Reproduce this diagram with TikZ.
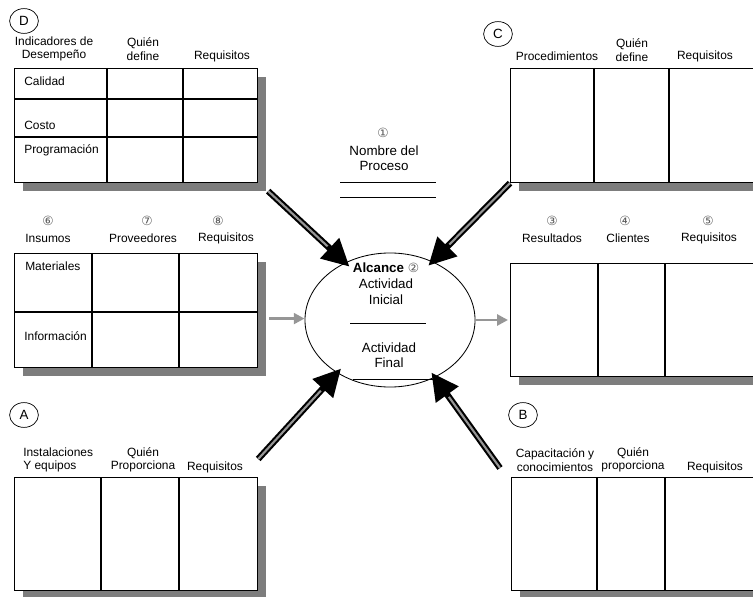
\documentclass[tikz,border=0pt]{standalone}
\usepackage{fontspec}
\setmainfont{Liberation Sans}
\newfontfamily\numfont{DejaVu Sans}
\usepackage{tikz}
\usetikzlibrary{positioning,calc,shapes.geometric,shadows,arrows.meta}
\definecolor{GrisSombra}{RGB}{125,125,125}
\definecolor{GrisFlecha}{RGB}{150,150,150}
\newcommand{\circnum}[1]{{\numfont\fontsize{9}{10}\selectfont\textcolor{black!65}{#1}}}
\tikzset{
    tabla/.style={draw, line width=0.8pt, fill=white, anchor=north west, inner sep=0pt,
        drop shadow={shadow xshift=0.22cm, shadow yshift=-0.2cm, fill=GrisSombra, opacity=1}},
    rejilla/.style={line width=0.8pt},
    etiqueta/.style={font=\fontsize{8.5}{9.5}\selectfont, inner sep=0pt, align=center},
    letra/.style={ellipse, draw, line width=0.5pt, minimum width=0.72cm, minimum height=0.62cm,
        inner sep=0pt, font=\fontsize{9.5}{10}\selectfont},
    numero/.style={inner sep=0pt},
    flechagruesa/.style={draw=black, line width=4.5pt, shorten >=-0.15cm,
        -{Triangle[length=0.68cm, width=0.66cm]},
        postaction={draw=GrisFlecha, line width=1.5pt, -, shorten >=0.6cm}},
    flechagris/.style={draw=GrisFlecha, line width=2pt, -{Triangle[length=0.27cm, width=0.27cm]}}
}
\begin{document}
\begin{tikzpicture}[x=0.025cm, y=-0.025cm,
        % texto del centro un poco mayor
        centro/.style={font=\fontsize{9.5}{11}\selectfont, inner sep=0pt, align=center}
    ]
        \clip (0,0) rectangle (753,596);

        % --- D: INDICADORES DE DESEMPEÑO ---
        \node[letra] (letD) at (24,21) {D};
        \node[etiqueta] (hD1) at (54,49) {Indicadores de\\Desempeño};
        \node[etiqueta] (hD2) at (143,49) {Quién\\define};
        \node[etiqueta] (hD3) at (222,56) {Requisitos};
        \node[tabla, minimum width=6.075cm, minimum height=2.85cm] (tD) at (14,68) {};
        \draw[rejilla] (107,68) -- (107,182);
        \draw[rejilla] (183,68) -- (183,182);
        \draw[rejilla] (14,99) -- (257,99);
        \draw[rejilla] (14,137) -- (257,137);
        \node[etiqueta, anchor=west] (fD1) at (24,81) {Calidad};
        \node[etiqueta, anchor=west] (fD2) at (24,125) {Costo};
        \node[etiqueta, anchor=west] (fD3) at (24,150) {Programación};

        % --- C: PROCEDIMIENTOS ---
        \node[letra] (letC) at (498,34) {C};
        \node[etiqueta] (hC1) at (557,56) {Procedimientos};
        \node[etiqueta] (hC2) at (632,50) {Quién\\define};
        \node[etiqueta] (hC3) at (705,56) {Requisitos};
        \node[tabla, minimum width=6.25cm, minimum height=2.85cm] (tC) at (510,68) {};
        \draw[rejilla] (594,68) -- (594,182);
        \draw[rejilla] (669,68) -- (669,182);

        % --- ENTRADAS: INSUMOS ---
        \node[numero] (nI1) at (48,221) {\circnum{⑥}};
        \node[numero] (nI2) at (147,221) {\circnum{⑦}};
        \node[numero] (nI3) at (218,221) {\circnum{⑧}};
        \node[etiqueta] (hI1) at (48,238) {Insumos};
        \node[etiqueta] (hI2) at (143,238) {Proveedores};
        \node[etiqueta] (hI3) at (226,238) {Requisitos};
        \node[tabla, minimum width=6.075cm, minimum height=2.85cm] (tI) at (14,253) {};
        \draw[rejilla] (92,253) -- (92,367);
        \draw[rejilla] (179,253) -- (179,367);
        \draw[rejilla] (14,312) -- (257,312);
        \node[etiqueta, anchor=west] (fI1) at (25,266) {Materiales};
        \node[etiqueta, anchor=west] (fI2) at (24,336) {Información};

        % --- NOMBRE DEL PROCESO ---
        \node[numero] (nP) at (383,133) {\circnum{①}};
        \node[centro, font=\fontsize{9.5}{10.5}\selectfont] (hP) at (384,158) {Nombre del\\Proceso};
        \draw[line width=0.6pt] (340,182) -- (436,182);
        \draw[line width=0.6pt] (340,197) -- (436,197);

        % --- ALCANCE (ELIPSE) ---
        \node[ellipse, draw, line width=0.6pt, minimum width=4.25cm, minimum height=3.35cm,
            inner sep=0pt] (alcance) at (390,320) {};
        \node[centro, font=\fontsize{9.5}{11.4}\selectfont] (tIni) at (386,284)
            {\textbf{Alcance} \circnum{②}\\Actividad\\Inicial};
        \draw[line width=0.6pt] (350,323) -- (426,323);
        \node[centro] (tFin) at (389,355) {Actividad\\Final};
        \draw[line width=0.6pt] (353,379) -- (433,379);

        % --- SALIDAS: RESULTADOS ---
        \node[numero] (nR1) at (552,221) {\circnum{③}};
        \node[numero] (nR2) at (625,221) {\circnum{④}};
        \node[numero] (nR3) at (708,221) {\circnum{⑤}};
        \node[etiqueta] (hR1) at (552,238) {Resultados};
        \node[etiqueta] (hR2) at (628,238) {Clientes};
        \node[etiqueta] (hR3) at (709,238) {Requisitos};
        \node[tabla, minimum width=6.25cm, minimum height=2.825cm] (tR) at (510,263) {};
        \draw[rejilla] (598,263) -- (598,376);
        \draw[rejilla] (665,263) -- (665,376);

        % --- A: INSTALACIONES ---
        \node[letra] (letA) at (24,415) {A};
        \node[etiqueta, align=left, anchor=west] (hA1) at (23,460) {Instalaciones\\Y equipos};
        \node[etiqueta] (hA2) at (143,460) {Quién\\Proporciona};
        \node[etiqueta] (hA3) at (215,467) {Requisitos};
        \node[tabla, minimum width=6.075cm, minimum height=2.825cm] (tA) at (14,477) {};
        \draw[rejilla] (101,477) -- (101,590);
        \draw[rejilla] (179,477) -- (179,590);

        % --- B: CAPACITACIÓN ---
        \node[letra] (letB) at (523,415) {B};
        \node[etiqueta] (hB1) at (555,460) {Capacitación y\\conocimientos};
        \node[etiqueta] (hB2) at (633,460) {Quién\\proporciona};
        \node[etiqueta] (hB3) at (715,467) {Requisitos};
        \node[tabla, minimum width=6.225cm, minimum height=2.825cm] (tB) at (511,477) {};
        \draw[rejilla] (597,477) -- (597,590);
        \draw[rejilla] (665,477) -- (665,590);

        % --- FLECHAS ---
        \coordinate (colaD) at ($(tD.south east)+(10,8)$);
        \coordinate (colaC) at (tC.south west);
        \coordinate (colaA) at ($(tA.north east)+(0,-18)$);
        \coordinate (colaB) at ($(tB.north west)+(-11,-9)$);
        \draw[flechagruesa] (colaD) -- (alcance.128);
        \draw[flechagruesa] (colaC) -- (alcance.54);
        \draw[flechagruesa] (colaA) -- (alcance.225);
        \draw[flechagruesa] (colaB) -- (alcance.308);

        \coordinate (salidaI) at ($(tI.east)+(11,8)$);
        \draw[flechagris] (salidaI) -- (salidaI -| alcance.west);
        \draw[flechagris, shorten >=0.05cm] (alcance.east) -- (alcance.east -| tR.west);
\end{tikzpicture}
\end{document}
